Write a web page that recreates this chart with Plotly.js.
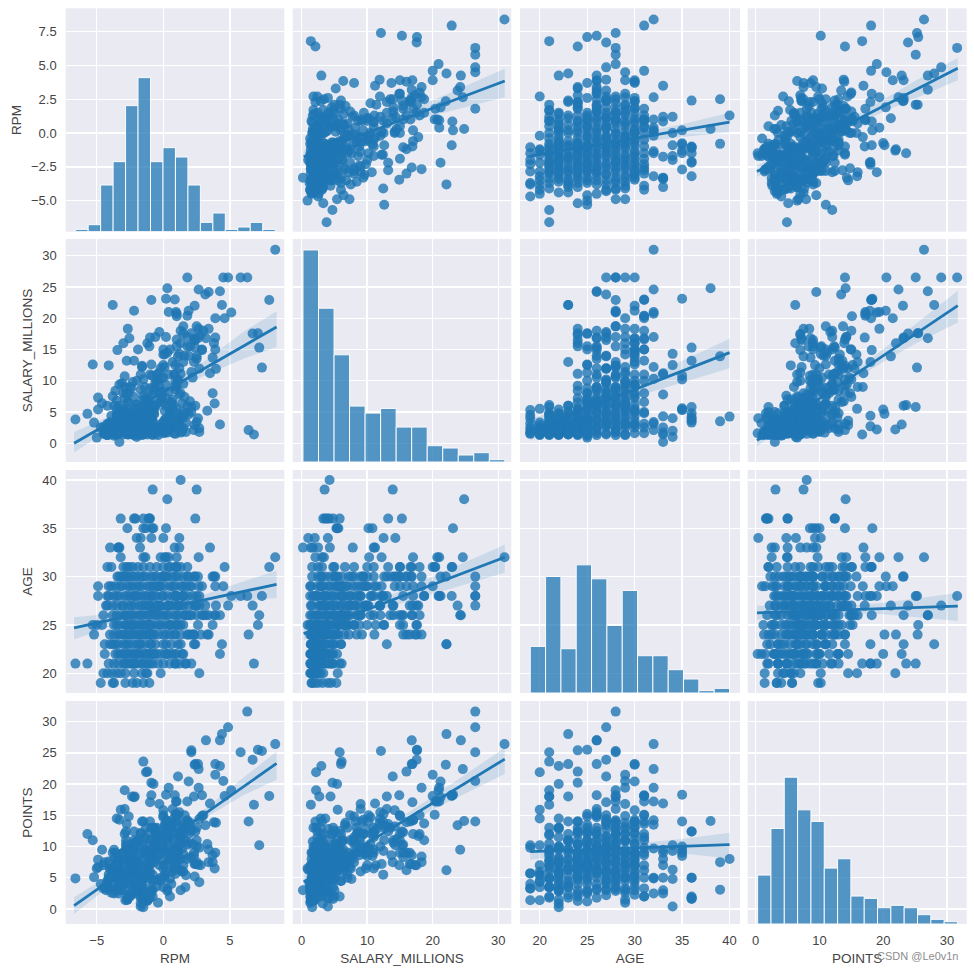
<!DOCTYPE html>
<html>
<head>
<meta charset="utf-8" />
<title>Pair plot</title>
<script src="https://cdn.plot.ly/plotly-2.35.2.min.js"></script>
<style>
  html, body { margin: 0; padding: 0; background: #fff; }
</style>
</head>
<body>
<div id="plot" style="width:974px;height:970px"></div>
<script>
// one line per age group, same order in every array
const RPM = [
  -4.7,-3.8,-3.7,-2.85,-2.3,-1.5,-1.05,-2.0,
  -4.5,-4.2,-3.85,-3.5,-3.2,-2.85,-2.2,-1.6,-1.2,-0.2,2.7,-1.3,
  2.1,-1.5,6.8,-6.6,-5.7,-2.9,-2.35,-2.15,-3,-2.5,-1.9,-1.6,-1.2,-0.8,-0.4,0.5,1.2,1.7,-4.1,-3.4,1.65,-2.7,
  4.25,-4.4,-3.6,-3.2,-3,-2.7,-2.5,-2.3,-2.1,-1.9,-1.7,-1.5,-1.3,-1.1,-0.9,-0.5,-0.2,0.1,0.6,1,1.4,1.5,-0.74,
  4.4,-3.8,2.4,2.3,-4.4,-4,-3.4,-3,-2.6,-2.3,-2,-1.7,-1.4,-1,-0.6,0.2,0.6,1.1,
  6.4,3.3,2.1,-1.2,-0.9,-5.2,-4,-3.7,-3.4,-3,-2.8,-2.5,-2.3,-2.1,-1.9,-1.6,-1.4,-1.2,-1,-0.7,-0.4,0,0.5,0.9,1.3,1.8,2.3,2.8,3.4,
  7.1,-5.3,-5,-4.6,-3.7,-3.3,-2.8,-2.6,-2.4,-2.2,-2,-1.8,-1.5,-1.3,-1.1,-0.9,-0.6,-0.3,0.1,0.5,0.9,1.3,3.7,2.6,-1.05,1.5,
  7.2,4.25,3.9,3.2,3.85,-3.8,-3.2,-2.6,-2.2,-1.9,-1.5,-1.2,-0.7,-0.3,0,0.4,0.8,1.2,1.6,2,2.5,3,3.4,-4.5,-2.9,2.9,
  4.86,6.7,3.15,3.95,2.7,2.35,-4.3,-3.5,-3.1,-2.6,-2.2,-1.8,-1.4,-1,-0.6,-0.2,0.3,0.7,1.1,1.5,1.9,2.4,-0.3,-1,1.1,-4.2,
  6.3,5.8,7.4,5.1,-0.9,-2.2,2.7,-4.9,-4.2,-3.7,-3.3,-2.9,-2.5,-2.2,-1.9,-1.6,-1.2,-0.9,-0.5,-0.1,0.3,0.7,1,1.4,1.8,2.2,0.95,2.5,1.5,-4.1,
  4.5,3.9,2.65,-0.6,-4.9,-4.1,-3.6,-3.1,-2.7,-2.3,-2,-1.6,-1.2,-0.8,-0.4,0.1,0.5,0.9,1.3,1.7,2.1,-3.9,2.9,-0.3,
  1.8,2.35,2.6,2.35,3.7,3.8,3.9,0,-3.1,-2.8,-2.4,-2,-1.7,-1.3,-0.9,-0.5,-0.1,0.3,0.7,1.1,1.5,-3.3,1.9,-3,-3.45,-2.67,
  7.95,4.6,0.86,1.8,-4.2,-3.9,-3,-2.75,-2.3,-1.9,-1.5,-1,-0.5,0,0.4,1,1.3,0.5,1,-2.55,
  8.4,2.65,0.2,1,-3.2,-1.5,-1.35,-0.2,0.1,0.4,
  3.5,1.2,-4,-3.35,-3.3,-1.75,0.85,-3.4,
  1.2,0,-2,-1.7,-0.9,
  0.2,-2.7,-1.5,-1.3,-0.85,-0.75,
  2.4,-3.2,-2.2,-2.1,-1.5,-1.1,-1,-1.05,
  0.3,
  2.5,-0.8,
  1.3,
  -3.2,-2.6,-1.7,-0.8,0.2,0.8,
  -3.5,-2.9,-2.3,-1.6,-1,-0.2,0.4,1,
  -3.5,-2.8,-2.4,-1.7,-1,-0.5,0.2,1,1.8,
  -3.8,-3,-2.4,-1.6,-1.2,-0.4,0.5,1.3,
  -3.5,-2.7,-2,-1.4,-0.7,0,0.9,
  -3.3,-2.5,-1.8,-1,-0.2,0.7,1.5,
  -2.9,-2.2,-1.5,-0.7,0.1,0.9,
  -3.4,-2.8,-2,-1.2,-0.7,0.3,
  -3.7,-2.2,-1,0,0.9,
  -3.6,-2.8,-1.8,-0.9,0,
  0.3,0.8,1.3,1.9,2.3,0.6,1.1,1.6,2.1,2.5,0.4,1,1.5,2,0.2,0.9
];
const SALARY = [
  2.5,3.2,1.5,2,4,5.3,4.5,1.6,
  1.5,1.3,2.3,2.9,5.5,1.7,2.2,3.3,1.4,2.5,1.8,2.2,
  5.8,6.1,1.4,3.8,4.7,2.2,2.7,4.4,2.5,1.9,1.5,2.8,3.4,1.3,2.1,2.6,3,1.8,3.1,1.6,4.8,2,
  3,1.8,1.4,2.2,2.8,1.6,3.5,1.4,2.6,1.3,3.2,1.6,2.2,4.2,1.5,2.4,3,1.7,2.9,3.2,1.9,4.1,5.4,
  22.1,22.1,6,13,1.6,3.3,2,5,1.4,2.5,4.4,1.6,2.8,3.1,1.5,6,2.4,3.6,
  2.1,5.2,17.6,16,4.7,3.3,2,1.6,3.6,1.4,2.4,2.9,1.5,3.8,2,1.3,3.2,1.8,5.3,8.4,2.4,3,4.2,9.2,11.1,15.5,16.5,17.3,18.3,
  17.6,12.6,0.9,6.4,1.2,2.5,4,8,1.6,5,10,2.2,1.4,7,3,2,5.8,11.3,3.7,15,12.5,4,8,4,15.5,17.5,
  15.3,24.3,16.9,16.8,6.35,1.6,3.8,2.4,1.3,5.6,7,2.1,4.6,8.4,10.5,6,11,12,14,15.5,13.5,18,24.2,2.6,9,14.9,
  26.5,17.55,23.8,11.9,11.95,2.9,1.4,4.4,9.6,3,7.4,1.6,6,3.4,9.8,12,2.6,7,10.2,5,14,16.5,17.8,16.9,13.9,6,
  26.5,26.5,12.1,20.9,22.9,21.2,2.4,7.3,1.3,6,3.2,10.7,9,5.4,2,12.4,7.5,4,11,8.2,1.7,13,15.5,6.4,17,10.5,21,18.7,18.7,12.45,
  26.5,20,18.3,17,5.4,2.4,8.4,4,1.4,9.8,6.2,12.2,2.9,7.8,1.3,14.2,5,10,16,3.3,11.4,4.4,15,9,
  26.5,16.7,16.8,22,13.7,16,15,14.2,3,8,1.6,6.2,11,4.4,12.6,2.5,7.2,14.5,5.5,10,13,9.4,21.2,16,14.9,18.3,
  22.9,20,23,20.4,3.1,1.6,8,13.2,4.8,15,2.5,6.6,10,15,11,16.6,18,5,20.3,16.8,
  30.96,24.6,17,20.7,3.1,2.1,3.4,10.3,12.2,21,
  11.2,7.8,1.7,2.5,0.2,4.3,11,1.4,
  14.3,12.5,1,4,2,
  23.1,5.4,10.2,5.6,10.8,5.3,
  15.3,3.3,13.2,3.6,4.2,4.8,5.8,3.9,
  24.8,
  13.9,3.5,
  4.26,
  4.5,6.5,5.6,3.5,7.2,1.6,
  5.5,7.2,3.4,4.6,8.8,6.6,2.3,5.6,
  6.8,5,3.1,8.6,3.6,6.3,4,9,6,
  7.5,5.2,8.8,3.8,6.8,10,4.5,8,
  4.6,6.6,3.7,9,6,3.4,8.6,
  6,3,5.6,11,7,6.2,9.5,
  5,3.6,7.6,9,5.2,3,
  3.6,1.8,4.6,2.8,4.8,2,
  2.3,3.4,2.4,1.6,4.2,
  1.4,3.8,2.2,4.8,2.3,
  2.2,3.6,1.7,4.6,2.1,6.6,2.9,7.4,5,3.4,8.2,4.8,2.4,6.7,9.4,1.5
];
const AGE = [
  19,19,19,19,19,19,19,19,
  20,20,20,20,20,20,20,20,20,20,20,20,
  21,21,21,21,21,21,21,21,21,21,21,21,21,21,21,21,21,21,21,21,21,21,
  22,22,22,22,22,22,22,22,22,22,22,22,22,22,22,22,22,22,22,22,22,22,22,
  23,23,23,23,23,23,23,23,23,23,23,23,23,23,23,23,23,23,
  24,24,24,24,24,24,24,24,24,24,24,24,24,24,24,24,24,24,24,24,24,24,24,24,24,24,24,24,24,
  25,25,25,25,25,25,25,25,25,25,25,25,25,25,25,25,25,25,25,25,25,25,25,25,25,25,
  26,26,26,26,26,26,26,26,26,26,26,26,26,26,26,26,26,26,26,26,26,26,26,26,26,26,
  27,27,27,27,27,27,27,27,27,27,27,27,27,27,27,27,27,27,27,27,27,27,27,27,27,27,
  28,28,28,28,28,28,28,28,28,28,28,28,28,28,28,28,28,28,28,28,28,28,28,28,28,28,28,28,28,28,
  29,29,29,29,29,29,29,29,29,29,29,29,29,29,29,29,29,29,29,29,29,29,29,29,
  30,30,30,30,30,30,30,30,30,30,30,30,30,30,30,30,30,30,30,30,30,30,30,30,30,30,
  31,31,31,31,31,31,31,31,31,31,31,31,31,31,31,31,31,31,31,31,
  32,32,32,32,32,32,32,32,32,32,
  33,33,33,33,33,33,33,33,
  34,34,34,34,34,
  35,35,35,35,35,35,
  36,36,36,36,36,36,36,36,
  38,
  39,39,
  40,
  24,24,24,24,24,24,
  25,25,25,25,25,25,25,25,
  26,26,26,26,26,26,26,26,26,
  27,27,27,27,27,27,27,27,
  28,28,28,28,28,28,28,
  29,29,29,29,29,29,29,
  30,30,30,30,30,30,
  22,22,22,22,22,22,
  21,21,21,21,21,
  23,23,23,23,23,
  22,22,23,24,24,25,25,26,26,27,27,28,28,29,30,21
];
const POINTS = [
  4,5.7,3.3,1.4,9.8,10.2,5.7,3.3,
  7,3.5,5.5,14.5,15.9,5.5,10.2,6,1.4,4.5,4.3,21.9,
  25.1,23.6,16.7,4.9,12,19,18,18,7,8.5,5,3.5,6.5,2,9.5,4.8,11.8,13,7.6,6,3.5,1.8,
  22.9,7.5,3,5.5,8,1.5,4,6.5,3.5,2.8,0.9,0.3,9.5,7.2,3,11.5,10,5,13,8.2,9.7,12.8,20,
  28,6.2,23.2,18,3.5,6.5,4.5,9,2.3,5.3,7.8,1.8,11,14,8,12,4,9.5,
  14,10.4,25.4,22,20.2,5.1,6.5,2.5,8,4,12.4,2,6,5,7.4,3,9,1.3,11,13,4.7,10.3,8,14,12.4,10.3,9,7,7.5,
  25.5,11,6.5,9.5,4,6,9.5,14.8,2.5,10.5,7,5,1.2,13,8.5,2.7,12.5,7,5.5,12,15.2,3,7.5,7.1,12.3,7,
  10.2,27,23.2,27,6.5,9,6,4,3,10,5.6,1.8,8,12,14.7,9,6.5,15.5,11,8.3,13,15,9.5,3.3,16,18.2,
  29.1,23.9,13.4,13.8,14.4,5.2,3,7.5,8.8,4.6,11,2.2,9.5,6,12.8,10,3.2,7.8,15,6,10.6,7.2,11.7,17.1,21.2,4.5,
  31.6,25.1,25.3,19,18.2,17.9,9.8,6.7,4.2,8,3.2,12,6,9.5,5.5,14,8.4,4.6,13,10.5,2.9,16,9,6,14.2,10.4,17.2,11,13.7,5.5,
  20.5,21.5,19.4,12,7.9,5,9,3,1.5,6.5,10.8,7.2,3.3,11,1,13.2,8,9.5,6.2,5.4,12.8,2.6,14.9,16.8,
  14,7.2,23.2,23.1,8.6,13.9,9,15.8,4.4,10.4,2.3,6.8,12.2,5.3,13,3.6,7.7,11.2,6,9,13.2,14.3,20.4,9,7,8.4,
  18.1,18.1,18.2,17.2,3.3,5,9,13.6,6.2,11,2,7,9.8,15,11.5,14,12,2,15.1,8.6,
  26.4,22.4,14.2,17.2,4.9,5,2.5,9.7,13.5,19.4,
  16.9,8,5,2.5,3,9,9.5,7,
  10.2,9.3,6.3,0.4,4.8,
  18.3,9.5,14,9,8.5,10,
  12.4,5,12.4,5,1.7,1.6,2,1.8,
  14.1,
  7.5,3.1,
  8,
  6,8.5,7,5.5,9,6.5,
  7.5,8,6.5,4.6,9.2,8.8,10.5,6.8,
  7,5,7.5,12,9,11,6,10,8,
  6.5,5.7,8.6,4,7.4,8.5,9.6,11.5,
  5,7.2,3.6,11.5,7.5,12,12.4,
  4.5,7,8.8,9,5,11,12,
  3,8,4.8,10.5,7,5.6,
  6,10,5.8,6,4.5,7.5,
  9.5,10.5,7.8,3.5,7,
  7,11,3.5,9.6,6.5,
  13,14.5,10.8,12,8.5,13.5,11,15,12.5,10,14,13,8.8,13.8,12,9
];

// histogram heights on the diagonal
const histRpm = [1,3,20,30,54,66,30,36,32,20,4,8,1,2,4,1];
const histSalary = [91,66,46,24,21,23,15,15,7,6,3,4,1];
const histAge = [20,50,19,55,49,29,44,16,16,10,6,1,2];
const histPoints = [21,41,63,49,44,24,28,12,11,7,8,7,4,2,1];

// regression lines and confidence bands, read at a few x values
const fitRpmX = [-6.7,-3,0,3,6,8.5];
const fitSalaryX = [0.3,6,12,20,31];
const fitAgeX = [19,23,26,30,35,40];
const fitPointsX = [0.2,5,10,15,20,25,31.7];

const rpmOnSalary = [-1.75,-0.72,0.37,1.82,3.85];
const rpmOnSalaryHi = [-1.3,-0.4,0.72,2.4,4.75];
const rpmOnSalaryLo = [-2.2,-1.05,0.05,1.3,2.65];
const rpmOnAge = [-1.7,-1.22,-0.87,-0.39,0.2,0.8];
const rpmOnAgeHi = [-1.1,-0.85,-0.55,-0.05,0.65,1.5];
const rpmOnAgeLo = [-2.3,-1.6,-1.2,-0.75,-0.3,0.05];
const rpmOnPoints = [-2.84,-1.63,-0.43,0.78,1.98,3.19,4.8];
const rpmOnPointsHi = [-2.4,-1.3,-0.15,1.1,2.45,3.85,5.55];
const rpmOnPointsLo = [-3.25,-1.95,-0.7,0.45,1.55,2.55,3.9];

const salaryOnRpm = [0,4.53,8.2,11.87,15.54,18.6];
const salaryOnRpmHi = [1.8,5.3,8.9,13,17.8,21.1];
const salaryOnRpmLo = [-1.5,3.7,7.5,10.7,13.5,15.4];
const salaryOnAge = [2.1,4.46,6.23,8.6,11.5,14.5];
const salaryOnAgeHi = [3.9,5.7,7.2,9.7,13.2,16.7];
const salaryOnAgeLo = [0.4,3.2,5.2,7.4,9.7,12];
const salaryOnPoints = [0.45,3.75,7.2,10.6,14,17.4,22];
const salaryOnPointsHi = [1.3,4.4,7.7,11.1,15,19,24.4];
const salaryOnPointsLo = [-0.5,3.1,6.6,9.9,13,15.9,19.3];

const ageOnRpm = [24.7,25.8,26.68,27.57,28.46,29.2];
const ageOnRpmHi = [25.8,26.3,27,28.1,29.5,30.6];
const ageOnRpmLo = [23.5,25.3,26.3,27,27.5,27.8];
const ageOnSalary = [24.1,25.57,27.1,29.16,32];
const ageOnSalaryHi = [24.8,26,27.6,30,33.3];
const ageOnSalaryLo = [23.4,25.1,26.6,28.2,30.4];
const ageOnPoints = [26.25,26.36,26.47,26.58,26.69,26.8,26.95];
const ageOnPointsHi = [27,26.85,26.85,27,27.3,27.7,28.3];
const ageOnPointsLo = [25.55,25.9,26.1,26.2,26.1,25.8,25.4];

const pointsOnRpm = [0.55,6.1,10.6,15.1,19.6,23.3];
const pointsOnRpmHi = [1.9,6.8,11.2,15.8,21,25.2];
const pointsOnRpmLo = [-0.8,5.4,10,14.4,18.2,20.7];
const pointsOnSalary = [4.35,8,11.85,17,24];
const pointsOnSalaryHi = [5.4,8.7,12.5,18,25.8];
const pointsOnSalaryLo = [3.3,7.3,11.2,15.9,21.6];
const pointsOnAge = [9.2,9.4,9.56,9.77,10.03,10.3];
const pointsOnAgeHi = [10.5,10.2,10.2,10.5,11.2,12.2];
const pointsOnAgeLo = [7.9,8.6,8.9,9.1,8.9,8.1];

const BLUE = '#1f77b4';
const FONT = 'Liberation Sans, Arial, sans-serif';
const TEXT = '#444444';
const W = 974, H = 970;

// panel edges in pixels
const colEdges = [[65.7,284.3],[292.7,511.3],[520,740],[747.7,966.7]];
const rowEdges = [[8.3,231.7],[239,462],[470,693],[701,924]];

const vars = [
  {name:'RPM', data:RPM, hist:histRpm, binStart:-6.58, binWidth:0.936, fitX:fitRpmX,
   xRange:[-7.33,9.08], yRange:[-7.3,9.23], xTicks:[-5,0,5], yTicks:[-5,-2.5,0,2.5,5,7.5], yFormat:'.1f'},
  {name:'SALARY_MILLIONS', data:SALARY, hist:histSalary, binStart:0.2, binWidth:2.37, fitX:fitSalaryX,
   xRange:[-1.37,32], yRange:[-3,32.67], xTicks:[0,10,20,30], yTicks:[0,5,10,15,20,25,30], yFormat:'d'},
  {name:'AGE', data:AGE, hist:histAge, binStart:19, binWidth:1.615, fitX:fitAgeX,
   xRange:[17.92,41.1], yRange:[17.96,41.03], xTicks:[20,25,30,35,40], yTicks:[20,25,30,35,40], yFormat:'d'},
  {name:'POINTS', data:POINTS, hist:histPoints, binStart:0.3, binWidth:2.09, fitX:fitPointsX,
   xRange:[-1.26,33.1], yRange:[-2.4,33.3], xTicks:[0,10,20,30], yTicks:[0,5,10,15,20,25,30], yFormat:'d'}
];

// fits[row][col] = [line, upper, lower]
const fits = [
  [null,[rpmOnSalary,rpmOnSalaryHi,rpmOnSalaryLo],[rpmOnAge,rpmOnAgeHi,rpmOnAgeLo],[rpmOnPoints,rpmOnPointsHi,rpmOnPointsLo]],
  [[salaryOnRpm,salaryOnRpmHi,salaryOnRpmLo],null,[salaryOnAge,salaryOnAgeHi,salaryOnAgeLo],[salaryOnPoints,salaryOnPointsHi,salaryOnPointsLo]],
  [[ageOnRpm,ageOnRpmHi,ageOnRpmLo],[ageOnSalary,ageOnSalaryHi,ageOnSalaryLo],null,[ageOnPoints,ageOnPointsHi,ageOnPointsLo]],
  [[pointsOnRpm,pointsOnRpmHi,pointsOnRpmLo],[pointsOnSalary,pointsOnSalaryHi,pointsOnSalaryLo],[pointsOnAge,pointsOnAgeHi,pointsOnAgeLo],null]
];

const traces = [];
const layout = {
  width: W, height: H,
  margin: {l:0, r:0, t:0, b:0},
  paper_bgcolor: '#fff',
  plot_bgcolor: '#eaeaf2',
  showlegend: false,
  barmode: 'overlay',
  hovermode: false,
  annotations: [{
    text: 'CSDN @Le0v1n', xref:'paper', yref:'paper', x:960/W, y:1-956/H,
    xanchor:'right', yanchor:'middle', showarrow:false,
    font:{family:FONT, size:11, color:'#8c8c8c'}
  }]
};

for (let r = 0; r < 4; r++) {
  for (let c = 0; c < 4; c++) {
    const n = r*4 + c + 1;
    const xv = vars[c], yv = vars[r];
    const xa = 'x' + n, ya = 'y' + n;

    layout['xaxis' + n] = {
      domain: [colEdges[c][0]/W, colEdges[c][1]/W],
      range: xv.xRange, anchor: ya,
      tickvals: xv.xTicks, showticklabels: r === 3, ticks: '', ticklabelstandoff: 7,
      showgrid: true, gridcolor: '#fff', gridwidth: 1.4, zeroline: false, showline: false,
      tickfont: {family:FONT, size:13, color:TEXT},
      title: r === 3 ? {text: xv.name, standoff: 6, font:{family:FONT, size:13.5, color:TEXT}} : undefined
    };
    layout['yaxis' + n] = {
      domain: [1-rowEdges[r][1]/H, 1-rowEdges[r][0]/H],
      range: yv.yRange, anchor: xa,
      tickvals: yv.yTicks, tickformat: yv.yFormat, showticklabels: c === 0, ticks: '', ticklabelstandoff: 8,
      showgrid: true, gridcolor: '#fff', gridwidth: 1.4, zeroline: false, showline: false,
      tickfont: {family:FONT, size:13, color:TEXT},
      title: c === 0 ? {text: yv.name, standoff: 6, font:{family:FONT, size:13.5, color:TEXT}} : undefined
    };

    if (r === c) {
      // empty trace keeps the panel's own axes alive under the histogram axis
      traces.push({type: 'scatter', mode: 'markers', xaxis: xa, yaxis: ya, x: [], y: []});
      const ya2 = 'y' + (17 + r);
      layout['yaxis' + (17 + r)] = {
        domain: layout['yaxis' + n].domain, overlaying: ya, anchor: xa,
        range: [0, 95.7], visible: false, showgrid: false, zeroline: false
      };
      traces.push({
        type: 'bar', xaxis: xa, yaxis: ya2,
        x: xv.hist.map((v, i) => xv.binStart + xv.binWidth*(i + 0.5)),
        y: xv.hist, width: xv.binWidth,
        marker: {color: BLUE, opacity: 0.75, line: {color:'#fff', width:1}}
      });
    } else {
      const fit = fits[r][c];
      traces.push({
        type: 'scatter', mode: 'markers', xaxis: xa, yaxis: ya,
        x: xv.data, y: yv.data,
        marker: {size: 10, color: BLUE, opacity: 0.8}
      });
      traces.push({
        type: 'scatter', mode: 'lines', xaxis: xa, yaxis: ya,
        x: xv.fitX.concat(xv.fitX.slice().reverse()),
        y: fit[1].concat(fit[2].slice().reverse()),
        fill: 'toself', fillcolor: 'rgba(31,119,180,0.15)', line: {width: 0}
      });
      traces.push({
        type: 'scatter', mode: 'lines', xaxis: xa, yaxis: ya,
        x: xv.fitX, y: fit[0], line: {color: BLUE, width: 2.8}
      });
    }
  }
}

Plotly.newPlot('plot', traces, layout, {displayModeBar: false, staticPlot: true});
</script>
</body>
</html>
